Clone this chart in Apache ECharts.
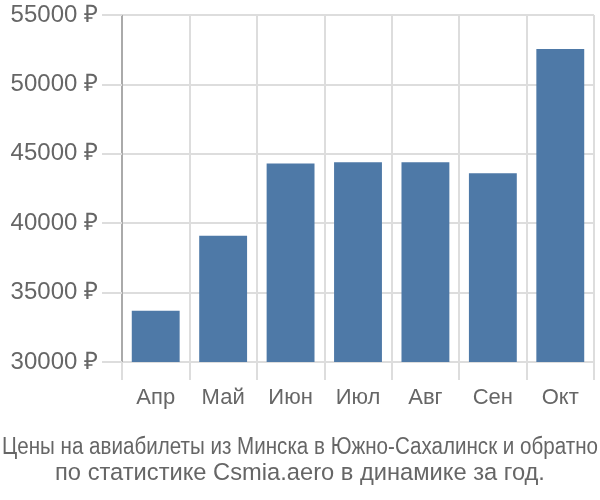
<!DOCTYPE html>
<html>
<head>
<meta charset="utf-8">
<script src="https://cdn.jsdelivr.net/npm/echarts@6/dist/echarts.min.js"></script>
<style>
  html, body { margin: 0; padding: 0; background: #fff; }
  #chart { width: 600px; height: 500px; }
</style>
</head>
<body>
<div id="chart"></div>
<script>
const months = ["Апр", "Май", "Июн", "Июл", "Авг", "Сен", "Окт"];
const prices = [33700, 39100, 44300, 44400, 44400, 43600, 52550];
const yTicks = { min: 30000, max: 55000, step: 5000 };
const titleLines = [
  "Цены на авиабилеты из Минска в Южно-Сахалинск и обратно",
  "по статистике Csmia.aero в динамике за год."
];

const chart = echarts.init(document.getElementById("chart"));
const font = "'Liberation Sans', Arial, sans-serif";

chart.setOption({
  animation: false,
  textStyle: { fontFamily: font },
  graphic: [
    {
      type: "text",
      x: 300,
      y: 448,
      scaleX: 0.895,
      style: {
        text: titleLines[0],
        textAlign: "center",
        textVerticalAlign: "middle",
        font: "23px " + font,
        fill: "#666"
      }
    },
    {
      type: "text",
      x: 300,
      y: 473,
      style: {
        text: titleLines[1],
        textAlign: "center",
        textVerticalAlign: "middle",
        font: "23.7px " + font,
        fill: "#666"
      }
    }
  ],
  grid: { left: 122, right: 6, top: 15, bottom: 138 },
  xAxis: {
    type: "category",
    data: months,
    offset: 18,
    axisLine: { show: false },
    axisTick: { show: true, inside: true, length: 18, lineStyle: { color: "#ddd", width: 2 } },
    splitLine: { show: true, lineStyle: { color: ["#aaa", "#ddd", "#ddd", "#ddd", "#ddd", "#ddd", "#ddd", "#ddd"], width: 2 } },
    axisLabel: { color: "#666", fontSize: 22, margin: 7 }
  },
  yAxis: {
    type: "value",
    min: yTicks.min,
    max: yTicks.max,
    interval: yTicks.step,
    axisLine: { show: false },
    axisTick: { show: true, length: 20, lineStyle: { color: "#ddd", width: 2 } },
    splitLine: { show: true, lineStyle: { color: "#ddd", width: 2 } },
    axisLabel: { color: "#666", fontSize: 24, margin: 24, formatter: (v) => v + " ₽" }
  },
  series: [
    {
      type: "bar",
      data: prices,
      barWidth: "71%",
      itemStyle: { color: "#4e79a7" }
    }
  ]
});
</script>
</body>
</html>
